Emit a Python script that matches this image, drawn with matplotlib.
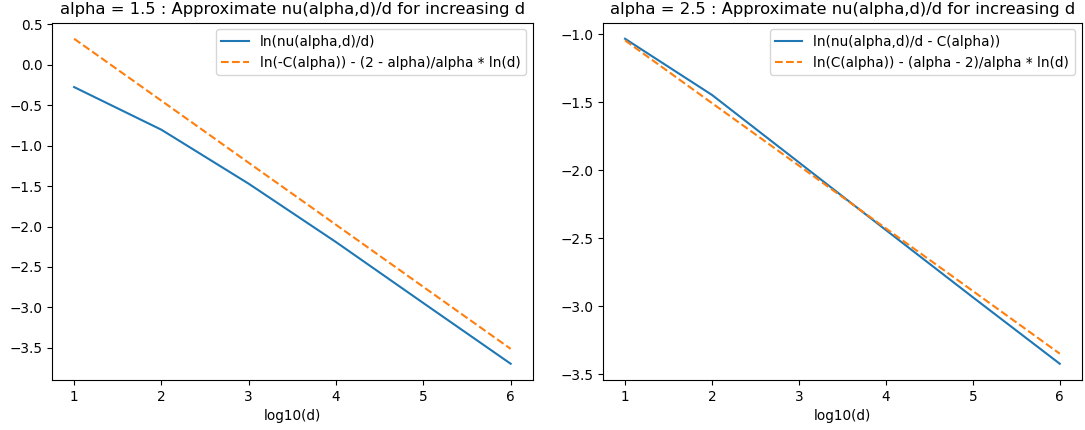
import matplotlib
matplotlib.use('Agg')
import matplotlib.pyplot as plt

# log10(d)
log_d = [1, 2, 3, 4, 5, 6]

# alpha = 1.5
nu_left = [-0.275, -0.803, -1.471, -2.193, -2.947, -3.698]
approx_left = [0.323, -0.444, -1.212, -1.979, -2.747, -3.514]

# alpha = 2.5
nu_right = [-1.032, -1.445, -1.941, -2.438, -2.932, -3.421]
approx_right = [-1.044, -1.505, -1.965, -2.426, -2.886, -3.347]

plt.rcParams['font.size'] = 9.8

fig = plt.figure(figsize=(10.85, 4.3), dpi=100)
ax1 = fig.add_axes([52.3 / 1085, 1 - 380 / 430, (532.5 - 52.3) / 1085, (380 - 22.5) / 430])
ax2 = fig.add_axes([603.3 / 1085, 1 - 380 / 430, (1081.5 - 603.3) / 1085, (380 - 22.5) / 430])

ax1.plot(log_d, nu_left, label='ln(nu(alpha,d)/d)')
ax1.plot(log_d, approx_left, '--', label='ln(-C(alpha)) - (2 - alpha)/alpha * ln(d)')
ax1.set_xlabel('log10(d)')
ax1.set_title('alpha = 1.5 : Approximate nu(alpha,d)/d for increasing d', fontsize=11.75)
ax1.legend(loc='upper right')

ax2.plot(log_d, nu_right, label='ln(nu(alpha,d)/d - C(alpha))')
ax2.plot(log_d, approx_right, '--', label='ln(C(alpha)) - (alpha - 2)/alpha * ln(d)')
ax2.set_xlabel('log10(d)')
ax2.set_title('alpha = 2.5 : Approximate nu(alpha,d)/d for increasing d', fontsize=11.75)
ax2.legend(loc='upper right')

plt.savefig('out.png', dpi=100)
